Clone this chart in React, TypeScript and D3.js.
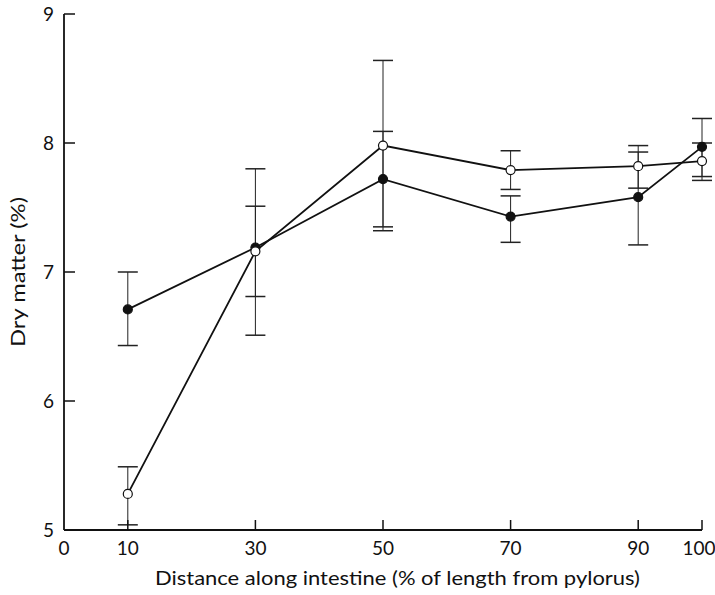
import * as React from 'react'
import * as d3 from 'd3'

// distance along intestine (% of length from pylorus)
const positions = [10, 30, 50, 70, 90, 100]
const xTicks = [0, 10, 30, 50, 70, 90, 100]
const yTicks = [5, 6, 7, 8, 9]

// filled circles
const filledMean = [6.71, 7.19, 7.72, 7.43, 7.58, 7.97]
const filledHigh = [7.0, 7.51, 8.09, 7.59, 7.93, 8.19]
const filledLow = [6.43, 6.81, 7.35, 7.23, 7.21, 7.74]

// open circles
const openMean = [5.28, 7.16, 7.98, 7.79, 7.82, 7.86]
const openHigh = [5.49, 7.8, 8.64, 7.94, 7.98, 8.0]
const openLow = [5.04, 6.51, 7.32, 7.64, 7.65, 7.71]

const W = 715
const H = 595
const margin = { top: 14, right: 13, bottom: 65, left: 64 }

const FONT = 'Lato, "Open Sans", sans-serif'

export default function App() {
  const x = d3.scaleLinear().domain([0, 100]).range([margin.left, W - margin.right])
  const y = d3.scaleLinear().domain([5, 9]).range([H - margin.bottom, margin.top])

  const line = d3
    .line<number>()
    .x((_, i) => x(positions[i]))
    .y(d => y(d))

  const series = [
    { mean: filledMean, high: filledHigh, low: filledLow, fill: '#111' },
    { mean: openMean, high: openHigh, low: openLow, fill: '#fff' },
  ]

  const capHalf = 10

  return (
    <svg
      width={W}
      height={H}
      style={{ position: 'absolute', left: 0, top: 0, background: '#fff' }}
    >
      {/* error bars */}
      {series.map((s, si) => (
        <g key={'err' + si} stroke="#222" strokeWidth={1}>
          {positions.map((p, i) => (
            <g key={i}>
              <line x1={x(p)} x2={x(p)} y1={y(s.high[i])} y2={y(s.low[i])} />
              <line x1={x(p) - capHalf} x2={x(p) + capHalf} y1={y(s.high[i])} y2={y(s.high[i])} strokeWidth={1.5} />
              <line x1={x(p) - capHalf} x2={x(p) + capHalf} y1={y(s.low[i])} y2={y(s.low[i])} strokeWidth={1.5} />
            </g>
          ))}
        </g>
      ))}

      {/* lines */}
      {series.map((s, si) => (
        <path key={'l' + si} d={line(s.mean) || ''} fill="none" stroke="#111" strokeWidth={1.8} />
      ))}

      {/* markers */}
      {series.map((s, si) => (
        <g key={'m' + si}>
          {positions.map((p, i) => (
            <circle key={i} cx={x(p)} cy={y(s.mean[i])} r={4.5} fill={s.fill} stroke="#111" strokeWidth={1.2} />
          ))}
        </g>
      ))}

      {/* y axis */}
      <g fontFamily={FONT} fontSize={19} fill="#111">
        <line x1={x(0)} x2={x(0)} y1={y(9)} y2={y(5)} stroke="#111" strokeWidth={1.8} />
        {yTicks.map(t => (
          <g key={t}>
            <line x1={x(0)} x2={x(0) + 11} y1={y(t)} y2={y(t)} stroke="#111" strokeWidth={1.5} />
            <text x={x(0) - 10} y={y(t)} dy="0.35em" textAnchor="end">
              {t}
            </text>
          </g>
        ))}
        <text
          transform={`translate(18, ${y(7)}) rotate(-90)`}
          textAnchor="middle"
          dy="0.35em"
          fontSize={20}
          textLength={150}
          lengthAdjust="spacingAndGlyphs"
        >
          Dry matter (%)
        </text>
      </g>

      {/* x axis */}
      <g fontFamily={FONT} fontSize={19} fill="#111">
        <line x1={x(0)} x2={x(100)} y1={y(5)} y2={y(5)} stroke="#111" strokeWidth={1.8} />
        {xTicks.map(t => (
          <g key={t}>
            {t > 0 && (
              <line x1={x(t)} x2={x(t)} y1={y(5)} y2={y(5) - 10} stroke="#111" strokeWidth={1.5} />
            )}
            <text x={x(t)} y={y(5) + 25} dx={t === 100 ? -3 : 0} textAnchor="middle">
              {t}
            </text>
          </g>
        ))}
        <text
          x={(155 + 640) / 2}
          y={y(5) + 55}
          textAnchor="middle"
          fontSize={20}
          textLength={485}
          lengthAdjust="spacingAndGlyphs"
        >
          Distance along intestine (% of length from pylorus)
        </text>
      </g>
    </svg>
  )
}
